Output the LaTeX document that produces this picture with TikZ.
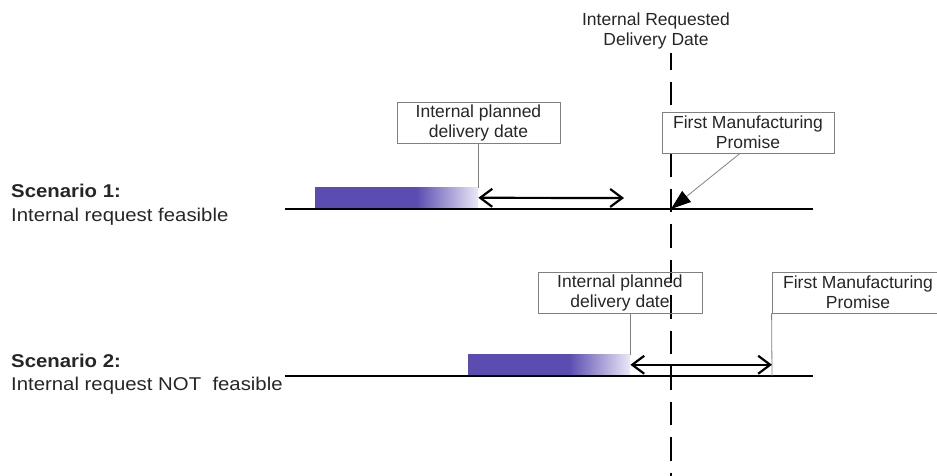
\documentclass[tikz,border=0pt]{standalone}
\usepackage{fontspec}
\setmainfont{Liberation Sans}
\newfontfamily\scenfont[FakeStretch=1.1]{Liberation Sans}
\usepackage{xcolor}
\usepackage{tikz}
\usetikzlibrary{arrows.meta}

\definecolor{barpurple}{RGB}{90,76,176}
\definecolor{barpale}{RGB}{236,232,248}
\pgfdeclarehorizontalshading{barfade}{100bp}{color(0bp)=(barpurple); color(56bp)=(barpurple); color(75bp)=(barpale); color(100bp)=(barpale)}

\begin{document}
\begin{tikzpicture}[x=1pt,y=-1pt,>={Straight Barb[length=12pt,width=18pt]},
            font=\fontsize{17.5}{20}\selectfont,text=black!85]
        \tikzstyle{tag}=[draw=black!50,line width=0.8pt,inner sep=0pt,minimum height=41pt,align=center]
        \tikzstyle{bar}=[shading=barfade,inner sep=0pt,minimum height=20pt,anchor=south west]
        \tikzstyle{scen}=[inner sep=0pt,align=left,anchor=north west,font=\scenfont\fontsize{18.5}{23.5}\selectfont]
        \tikzstyle{axis}=[line width=2.2pt]
        \tikzstyle{span}=[<->,line width=2.2pt]
        \tikzstyle{lead}=[draw=black!50,line width=0.8pt]
        \tikzstyle{pointer}=[-{Triangle[length=20pt,width=14pt,color=black]},draw=black!50,line width=0.8pt]

        \clip (0,0) rectangle (937,476);

        % requested date
        \node[inner sep=0pt,align=center,anchor=north] (req) at (656,12.5) {Internal Requested\\Delivery Date};
        \coordinate (rtop) at (671,53);
        \coordinate (rbot) at (671,476);
        \draw[line width=2.5pt,dash pattern=on 23.5pt off 12pt,dash phase=6.5pt] (rtop) -- (rbot);

        % scenario 1
        \node[scen] (s1) at (11,184) {\textbf{Scenario 1:}\\Internal request feasible};
        \coordinate (a1) at (285,209);
        \coordinate (b1) at (813,209);
        \coordinate (hit1) at (671,209);
        \draw[axis] (a1) -- (b1);
        \node[bar,minimum width=163pt] (bar1) at (315,208) {};
        \node[tag,minimum width=163pt] (plan1) at (478.5,122.5) {Internal planned\\delivery date};
        \node[tag,minimum width=172pt,fill=white] (fmp1) at (748,132.5) {First Manufacturing\\Promise};
        \draw[lead] (bar1.north east |- plan1.south) -- (bar1.north east);
        \coordinate (e1) at (624,198);
        \draw[span] (bar1.east) -- (e1);
        \draw[pointer] ([xshift=-8pt]fmp1.south) -- (hit1);

        % scenario 2
        \node[scen] (s2) at (11,353.5) {\textbf{Scenario 2:}\\Internal request NOT\ \ feasible};
        \coordinate (a2) at (285,376);
        \coordinate (b2) at (813,376);
        \draw[axis] (a2) -- (b2);
        \node[bar,minimum width=162pt] (bar2) at (468,375) {};
        \node[tag,minimum width=164pt] (plan2) at (620,292.5) {Internal planned\\delivery date};
        \node[tag,minimum width=172pt] (fmp2) at (858,292.5) {First Manufacturing\\Promise};
        \draw[lead] (bar2.north east |- plan2.south) -- (bar2.north east);
        \coordinate (e2) at (772,376);
        \draw[lead] (fmp2.south west) -- (e2);
        \draw[span] (bar2.east) -- (e2 |- bar2.east);
    \end{tikzpicture}
\end{document}
